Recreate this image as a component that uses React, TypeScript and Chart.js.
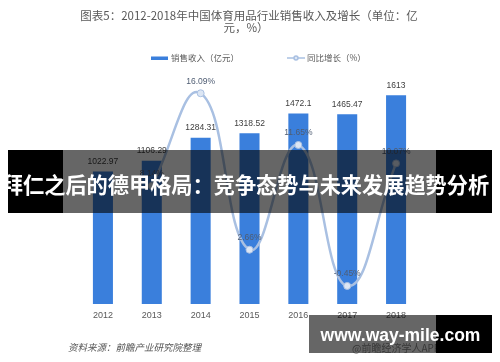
import React, { useEffect, useRef } from 'react';
import { Chart, registerables } from 'chart.js';

Chart.register(...registerables);

const years = ['2012', '2013', '2014', '2015', '2016', '2017', '2018'];
const revenue = [1022.97, 1106.29, 1284.31, 1318.52, 1472.1, 1465.47, 1613];
const growth: (number | null)[] = [null, 8.14, 16.09, 2.66, 11.65, -0.45, 10.07];
const revenueLabels = ['1022.97', '1106.29', '1284.31', '1318.52', '1472.1', '1465.47', '1613'];
const growthLabels: (string | null)[] = [null, '8.14%', '16.09%', '2.66%', '11.65%', '-0.45%', '10.07%'];
const titleLines = ['图表5：2012-2018年中国体育用品行业销售收入及增长（单位：亿', '元，%）'];
const legendLabels = ['销售收入（亿元）', '同比增长（%）'];
const sourceText = '资料来源：前瞻产业研究院整理';
const bannerText = '拜仁之后的德甲格局：竞争态势与未来发展趋势分析';
const siteText = 'www.way-mile.com';
const watermarkText = '@前瞻经济学人APP';

const BAR_COLOR = '#3A7FDC';
const LINE_COLOR = '#A9C0E2';
const POINT_FILL = '#DCE6F4';
const TEXT_GRAY = '#595959';
const CJK = '"Noto Sans CJK SC", "Noto Sans", sans-serif';

const decorPlugin = {
  id: 'decor',
  afterDatasetsDraw(chart: any) {
    const ctx = chart.ctx as CanvasRenderingContext2D;
    ctx.save();
    // bar value labels
    const barMeta = chart.getDatasetMeta(0);
    ctx.font = '8.5px "Liberation Sans", Arial, sans-serif';
    ctx.fillStyle = '#404040';
    ctx.textAlign = 'center';
    ctx.textBaseline = 'middle';
    barMeta.data.forEach((el: any, i: number) => {
      ctx.fillText(revenueLabels[i], el.x, el.y - 10);
    });
    // line value labels
    const lineMeta = chart.getDatasetMeta(1);
    ctx.fillStyle = '#4F5D73';
    lineMeta.data.forEach((el: any, i: number) => {
      const t = growthLabels[i];
      if (t && !el.skip) ctx.fillText(t, el.x, el.y - 12);
    });
    ctx.restore();
  },
  afterDraw(chart: any) {
    const ctx = chart.ctx as CanvasRenderingContext2D;
    ctx.save();
    // title
    ctx.fillStyle = TEXT_GRAY;
    ctx.font = `11.5px ${CJK}`;
    ctx.textAlign = 'center';
    ctx.textBaseline = 'middle';
    ctx.fillText(titleLines[0], 249, 15.5);
    ctx.fillText(titleLines[1], 246, 27.5);
    // legend
    ctx.fillStyle = BAR_COLOR;
    ctx.fillRect(151, 56.5, 17, 3.5);
    ctx.strokeStyle = LINE_COLOR;
    ctx.lineWidth = 1.5;
    ctx.beginPath();
    ctx.moveTo(287, 58);
    ctx.lineTo(305, 58);
    ctx.stroke();
    ctx.fillStyle = POINT_FILL;
    ctx.beginPath();
    ctx.arc(296, 58, 2, 0, Math.PI * 2);
    ctx.fill();
    ctx.stroke();
    ctx.fillStyle = TEXT_GRAY;
    ctx.font = `8.5px ${CJK}`;
    ctx.textAlign = 'left';
    ctx.fillText(legendLabels[0], 171, 58);
    ctx.fillText(legendLabels[1], 307, 58);
    // source
    ctx.font = `italic 9.5px ${CJK}`;
    ctx.fillStyle = '#555555';
    ctx.fillText(sourceText, 68, 347);
    // watermark app text
    ctx.font = `10px ${CJK}`;
    ctx.fillStyle = '#8C8C8C';
    ctx.fillText(watermarkText, 352, 348);
    ctx.restore();
  },
};

export default function App() {
  const ref = useRef<HTMLCanvasElement>(null);
  useEffect(() => {
    if (!ref.current) return;
    const chart = new Chart(ref.current, {
      type: 'bar',
      data: {
        labels: years,
        datasets: [
          {
            type: 'bar',
            label: legendLabels[0],
            data: revenue,
            backgroundColor: BAR_COLOR,
            yAxisID: 'y',
            barPercentage: 0.41,
            categoryPercentage: 1,
            order: 2,
          },
          {
            type: 'line',
            label: legendLabels[1],
            data: growth,
            borderColor: LINE_COLOR,
            borderWidth: 2.5,
            backgroundColor: POINT_FILL,
            pointBackgroundColor: POINT_FILL,
            pointBorderColor: LINE_COLOR,
            pointBorderWidth: 1,
            pointRadius: 3.5,
            tension: 0.45,
            yAxisID: 'y1',
            order: 1,
          } as any,
        ],
      },
      options: {
        responsive: false,
        animation: false,
        devicePixelRatio: 1,
        layout: { padding: { left: 78.5, right: 79.5, top: 71, bottom: 35.2 } },
        plugins: {
          legend: { display: false },
          title: { display: false },
          tooltip: { enabled: false },
        },
        scales: {
          x: {
            grid: { display: false, drawTicks: false },
            border: { display: false },
            ticks: {
              color: TEXT_GRAY,
              font: { size: 9, family: '"Liberation Sans", Arial, sans-serif', lineHeight: 1.2 },
              padding: 6,
            },
          },
          y: { display: false, min: 0, max: 1800 },
          y1: { display: false, min: -2, max: 18, position: 'right' },
        },
      },
      plugins: [decorPlugin],
    });
    return () => chart.destroy();
  }, []);

  const abs = (s: React.CSSProperties): React.CSSProperties => ({ position: 'absolute', ...s });

  return (
    <div style={{ position: 'fixed', left: 0, top: 0, width: 500, height: 362, background: '#fff' }}>
      <canvas ref={ref} width={500} height={362} style={{ width: 500, height: 362, display: 'block' }} />
      <div style={abs({ left: 8, top: 150, width: 55, height: 63, background: '#000' })} />
      <div style={abs({ left: 63, top: 150, width: 373, height: 63, background: 'rgba(0,0,0,0.6)' })} />
      <div style={abs({ left: 436, top: 150, width: 56, height: 63, background: '#000' })} />
      <div
        style={abs({
          left: 0,
          top: 150,
          width: 491,
          height: 63,
          lineHeight: '68px',
          textAlign: 'center',
          whiteSpace: 'nowrap',
          color: '#fff',
          fontWeight: 700,
          fontSize: 21.2,
          fontFamily: CJK,
        })}
      >
        {bannerText}
      </div>
      <div style={abs({ left: 309, top: 315, width: 127, height: 38, background: 'rgba(0,0,0,0.6)' })} />
      <div style={abs({ left: 436, top: 315, width: 56, height: 38, background: '#000' })} />
      <div
        style={abs({
          left: 309,
          top: 315,
          width: 183,
          height: 38,
          lineHeight: '40px',
          textAlign: 'center',
          whiteSpace: 'nowrap',
          color: '#fff',
          fontWeight: 700,
          fontSize: 17.5,
          fontFamily: '"Liberation Sans", Arial, sans-serif',
        })}
      >
        {siteText}
      </div>
    </div>
  );
}
